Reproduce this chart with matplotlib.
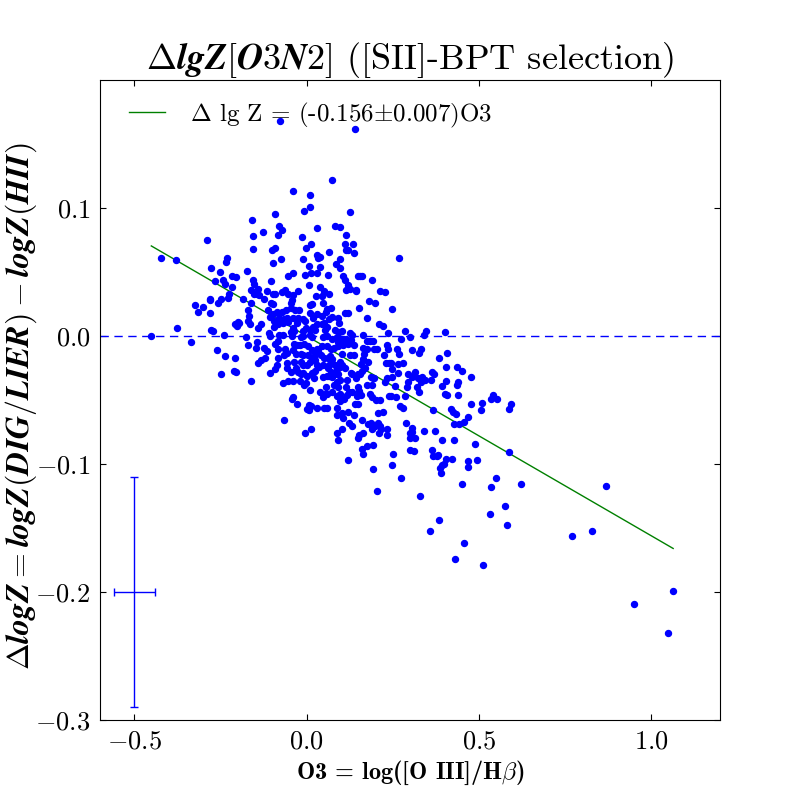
import matplotlib
matplotlib.use("Agg")
import matplotlib.pyplot as plt
import numpy as np
from matplotlib.ticker import FuncFormatter

# ---------------- data ----------------
o3 = [
 -0.078, -0.039, 0.010, -0.007, 0.010, -0.158, -0.091, -0.080, -0.071, -0.155,
 -0.126, -0.082, 0.031, -0.289, -0.013, -0.155, -0.100, -0.091, -0.001, 0.013,
 -0.423, -0.379, -0.231, -0.233, -0.074, -0.097, -0.010, 0.031, 0.039, 0.034,
 0.064, -0.277, -0.252, 0.008, 0.039, -0.172, -0.216, -0.204, -0.242, -0.236,
 -0.265, -0.157, -0.152, -0.103, -0.039, -0.053, -0.004, 0.013, 0.031, 0.063,
 -0.216, -0.225, -0.228, -0.281, -0.280, -0.248, -0.257, -0.161, -0.141, -0.154,
 -0.145, -0.138, -0.114, -0.184, -0.161, -0.123, -0.097, -0.091, -0.103, -0.097,
 -0.073, -0.062, -0.053, -0.039, -0.024, 0.008, 0.039, 0.049, 0.064, -0.042,
 -0.045, -0.323, -0.300, 0.016, 0.046, 0.140, 0.074, 0.127, 0.083, 0.098,
 0.115, 0.112, 0.135, 0.115, 0.121, 0.138, 0.269, 0.098, 0.086, 0.098,
 0.106, 0.150, 0.156, 0.161, 0.190, 0.112, 0.121, 0.127, 0.115, 0.144,
 0.144, 0.214, 0.228, 0.182, 0.199, 0.071, 0.153, 0.249, 0.028, 0.045,
 0.010, 0.060, -0.315, -0.280, -0.171, -0.168, -0.170, -0.164, -0.199, -0.196,
 -0.207, -0.202, -0.377, -0.278, -0.271, -0.240, -0.451, -0.335, -0.175, -0.141,
 -0.133, -0.111, -0.106, -0.097, -0.087, -0.071, -0.060, -0.045, -0.035, -0.021,
 -0.080, -0.066, -0.056, -0.041, -0.026, -0.094, -0.090, -0.094, -0.082, -0.068,
 -0.055, -0.028, -0.010, -0.004, 0.010, 0.017, 0.029, 0.044, 0.057, 0.064,
 -0.003, 0.010, 0.017, 0.024, -0.010, -0.040, -0.037, 0.031, 0.044, 0.049,
 0.058, 0.053, -0.110, -0.106, -0.080, -0.068, -0.082, -0.046, -0.044, -0.017,
 -0.010, 0.010, 0.016, 0.048, 0.058, -0.170, -0.145, -0.146, -0.123, -0.116,
 -0.092, -0.082, -0.063, -0.058, -0.066, -0.038, -0.027, -0.019, -0.008, -0.040,
 -0.032, 0.005, 0.015, 0.029, 0.044, 0.060, -0.017, -0.010, 0.005, 0.015,
 0.024, 0.034, 0.041, 0.051, 0.063, -0.260, -0.236, -0.207, -0.121, -0.134,
 -0.141, -0.082, -0.085, -0.091, -0.058, -0.037, -0.017, -0.010, 0.000, 0.010,
 0.024, 0.029, 0.037, 0.048, 0.064, -0.058, -0.046, -0.032, -0.024, -0.017,
 -0.010, 0.000, 0.015, 0.025, -0.107, -0.210, -0.205, -0.248, -0.163, -0.053,
 -0.041, -0.068, -0.019, -0.008, -0.002, 0.022, 0.046, 0.058, 0.056, 0.010,
 0.039, 0.053, 0.048, -0.039, -0.044, -0.027, 0.006, 0.012, 0.002, 0.008,
 0.031, 0.051, -0.066, 0.013, -0.004, 0.073, 0.090, 0.095, 0.111, 0.121,
 0.174, 0.211, 0.222, 0.082, 0.095, 0.103, 0.126, 0.131, 0.164, 0.237,
 0.286, 0.274, 0.301, 0.346, 0.341, 0.402, 0.073, 0.087, 0.102, 0.113,
 0.090, 0.097, 0.070, 0.080, 0.092, 0.106, 0.119, 0.129, 0.138, 0.174,
 0.184, 0.193, 0.164, 0.176, 0.167, 0.195, 0.203, 0.237, 0.232, 0.263,
 0.268, 0.307, 0.326, 0.332, 0.385, 0.408, 0.068, 0.074, 0.073, 0.082,
 0.097, 0.102, 0.103, 0.126, 0.138, 0.163, 0.179, 0.157, 0.225, 0.230,
 0.239, 0.245, 0.266, 0.280, 0.247, 0.063, 0.070, 0.077, 0.087, 0.097,
 0.111, 0.066, 0.074, 0.082, 0.092, 0.097, 0.087, 0.080, 0.092, 0.116,
 0.129, 0.132, 0.142, 0.148, 0.155, 0.160, 0.169, 0.186, 0.192, 0.196,
 0.174, 0.189, 0.227, 0.232, 0.247, 0.266, 0.256, 0.295, 0.307, 0.314,
 0.324, 0.334, 0.343, 0.332, 0.319, 0.326, 0.295, 0.292, 0.361, 0.365,
 0.370, 0.392, 0.405, 0.404, 0.436, 0.438, 0.452, 0.437, 0.476, 0.402,
 0.407, 0.440, 0.058, 0.074, 0.087, 0.097, 0.113, 0.116, 0.123, 0.131,
 0.150, 0.153, 0.158, 0.147, 0.184, 0.189, 0.201, 0.213, 0.239, 0.244,
 0.259, 0.285, 0.060, 0.089, 0.109, 0.097, 0.140, 0.150, 0.102, 0.121,
 0.138, 0.087, 0.208, 0.222, 0.271, 0.280, 0.368, 0.419, 0.426, 0.434,
 0.467, 0.458, 0.443, 0.427, 0.477, 0.508, 0.506, 0.534, 0.542, 0.553,
 0.593, 0.588, 0.106, 0.123, 0.131, 0.102, 0.160, 0.177, 0.187, 0.198,
 0.208, 0.213, 0.189, 0.216, 0.232, 0.232, 0.288, 0.305, 0.307, 0.300,
 0.341, 0.373, 0.089, 0.092, 0.148, 0.153, 0.164, 0.211, 0.300, 0.314,
 0.394, 0.427, 0.161, 0.174, 0.193, 0.164, 0.251, 0.301, 0.312, 0.363,
 0.377, 0.368, 0.382, 0.404, 0.423, 0.489, 0.588, 0.119, 0.247, 0.193,
 0.387, 0.394, 0.400, 0.390, 0.467, 0.467, 0.495, 0.275, 0.205, 0.330,
 0.452, 0.536, 0.551, 0.623, 0.577, 0.533, 0.582, 0.385, 0.359, 0.458,
 0.431, 0.513, 0.870, 0.771, 0.829, 1.064, 0.951, 1.050,
]

dlogz = [
 0.168, 0.113, 0.110, 0.098, 0.101, 0.091, 0.095, 0.086, 0.083, 0.078,
 0.081, 0.079, 0.084, 0.075, 0.077, 0.068, 0.067, 0.069, 0.069, 0.072,
 0.061, 0.059, 0.061, 0.058, 0.060, 0.057, 0.060, 0.063, 0.062, 0.061,
 0.066, 0.053, 0.050, 0.055, 0.054, 0.051, 0.047, 0.046, 0.044, 0.041,
 0.043, 0.044, 0.041, 0.043, 0.049, 0.047, 0.048, 0.049, 0.049, 0.048,
 0.038, 0.033, 0.030, 0.029, 0.028, 0.029, 0.026, 0.036, 0.037, 0.033,
 0.033, 0.032, 0.035, 0.029, 0.026, 0.029, 0.033, 0.033, 0.026, 0.025,
 0.034, 0.036, 0.033, 0.032, 0.035, 0.040, 0.038, 0.035, 0.033, 0.028,
 0.026, 0.024, 0.023, 0.025, 0.026, 0.162, 0.122, 0.097, 0.086, 0.085,
 0.079, 0.072, 0.072, 0.067, 0.067, 0.065, 0.061, 0.060, 0.056, 0.053,
 0.047, 0.047, 0.047, 0.047, 0.044, 0.044, 0.040, 0.037, 0.036, 0.036,
 0.035, 0.035, 0.034, 0.027, 0.026, 0.022, 0.022, 0.021, 0.031, 0.031,
 0.024, 0.021, 0.019, 0.018, 0.020, 0.016, 0.012, 0.009, 0.011, 0.010,
 0.009, 0.008, 0.006, 0.005, 0.004, 0.001, 0.000, -0.005, -0.001, 0.006,
 0.009, 0.020, 0.015, 0.017, 0.019, 0.019, 0.020, 0.022, 0.020, 0.020,
 0.014, 0.013, 0.014, 0.014, 0.014, 0.012, 0.009, 0.007, 0.009, 0.010,
 0.011, 0.010, 0.013, 0.012, 0.018, 0.014, 0.017, 0.016, 0.019, 0.013,
 0.006, 0.005, 0.007, 0.005, 0.004, 0.006, 0.004, 0.009, 0.009, 0.010,
 0.007, 0.005, 0.002, 0.000, 0.001, 0.001, -0.004, 0.003, 0.000, -0.001,
 0.000, 0.001, -0.001, -0.001, 0.000, -0.007, -0.005, -0.009, -0.009, -0.012,
 -0.006, -0.010, -0.010, -0.013, -0.015, -0.006, -0.007, -0.007, -0.006, -0.011,
 -0.014, -0.008, -0.011, -0.010, -0.008, -0.008, -0.014, -0.015, -0.015, -0.017,
 -0.015, -0.012, -0.015, -0.017, -0.017, -0.011, -0.016, -0.017, -0.017, -0.019,
 -0.021, -0.017, -0.023, -0.026, -0.021, -0.020, -0.020, -0.023, -0.023, -0.020,
 -0.019, -0.023, -0.024, -0.023, -0.023, -0.025, -0.028, -0.025, -0.028, -0.030,
 -0.029, -0.031, -0.029, -0.027, -0.029, -0.027, -0.028, -0.030, -0.035, -0.035,
 -0.035, -0.037, -0.035, -0.038, -0.037, -0.033, -0.032, -0.031, -0.040, -0.042,
 -0.044, -0.045, -0.048, -0.048, -0.049, -0.053, -0.054, -0.055, -0.057, -0.058,
 -0.056, -0.056, -0.066, -0.073, -0.076, 0.015, 0.014, 0.010, 0.018, 0.018,
 0.014, 0.009, 0.008, 0.005, 0.003, 0.004, 0.002, 0.001, 0.001, 0.002,
 0.004, -0.002, -0.001, 0.004, 0.001, 0.003, -0.002, -0.001, -0.002, -0.002,
 -0.005, -0.004, -0.010, -0.009, -0.008, -0.007, -0.006, -0.003, -0.007, -0.004,
 -0.004, -0.004, -0.009, -0.010, -0.014, -0.010, -0.010, -0.010, -0.007, -0.010,
 -0.014, -0.011, -0.013, -0.010, -0.017, -0.013, -0.016, -0.018, -0.021, -0.023,
 -0.020, -0.023, -0.014, -0.015, -0.015, -0.018, -0.020, -0.022, -0.015, -0.021,
 -0.021, -0.021, -0.022, -0.021, -0.026, -0.025, -0.028, -0.029, -0.026, -0.024,
 -0.025, -0.031, -0.032, -0.030, -0.030, -0.034, -0.036, -0.038, -0.040, -0.034,
 -0.029, -0.030, -0.033, -0.030, -0.030, -0.027, -0.025, -0.032, -0.033, -0.033,
 -0.038, -0.038, -0.036, -0.033, -0.032, -0.029, -0.039, -0.030, -0.032, -0.028,
 -0.033, -0.032, -0.034, -0.036, -0.040, -0.044, -0.036, -0.040, -0.034, -0.028,
 -0.030, -0.039, -0.035, -0.024, -0.038, -0.036, -0.027, -0.024, -0.032, -0.045,
 -0.046, -0.046, -0.045, -0.044, -0.047, -0.045, -0.040, -0.046, -0.044, -0.044,
 -0.040, -0.043, -0.046, -0.047, -0.045, -0.048, -0.050, -0.050, -0.047, -0.047,
 -0.048, -0.047, -0.056, -0.056, -0.049, -0.051, -0.053, -0.053, -0.060, -0.059,
 -0.062, -0.062, -0.060, -0.059, -0.055, -0.056, -0.058, -0.057, -0.059, -0.061,
 -0.063, -0.067, -0.069, -0.069, -0.053, -0.052, -0.058, -0.049, -0.046, -0.049,
 -0.053, -0.057, -0.064, -0.068, -0.070, -0.073, -0.066, -0.069, -0.068, -0.070,
 -0.068, -0.070, -0.073, -0.073, -0.073, -0.077, -0.068, -0.072, -0.075, -0.076,
 -0.074, -0.074, -0.076, -0.081, -0.080, -0.077, -0.076, -0.076, -0.080, -0.080,
 -0.081, -0.081, -0.088, -0.086, -0.085, -0.092, -0.092, -0.089, -0.090, -0.089,
 -0.094, -0.094, -0.093, -0.096, -0.096, -0.084, -0.091, -0.097, -0.101, -0.104,
 -0.103, -0.101, -0.100, -0.107, -0.098, -0.102, -0.097, -0.111, -0.121, -0.125,
 -0.116, -0.118, -0.111, -0.116, -0.133, -0.139, -0.148, -0.144, -0.152, -0.162,
 -0.174, -0.179, -0.117, -0.156, -0.152, -0.199, -0.209, -0.232,
]

fit_slope = -0.156
fit_slope_err = 0.007
fit_intercept = 0.0

err_x, err_y = -0.5, -0.2
err_xerr, err_yerr = 0.06, 0.09

x_ticks = [-0.5, 0.0, 0.5, 1.0]
y_ticks = [-0.3, -0.2, -0.1, 0.0, 0.1]

# ---------------- style ----------------
plt.rcParams['mathtext.fontset'] = 'cm'
plt.rcParams['font.family'] = ['cmr10', 'DejaVu Serif']
plt.rcParams['axes.unicode_minus'] = False
plt.rcParams['xtick.direction'] = 'in'
plt.rcParams['ytick.direction'] = 'in'
plt.rcParams['xtick.top'] = True
plt.rcParams['ytick.right'] = True
plt.rcParams['xtick.major.size'] = 4
plt.rcParams['ytick.major.size'] = 4

fig = plt.figure(figsize=(8, 8), dpi=100)
ax = fig.add_axes([0.125, 0.1, 0.775, 0.8])

o3a = np.array(o3)
dza = np.array(dlogz)

ax.plot(o3a, dza, 'o', color='b', mec='b', ms=4.3, zorder=3)

xl = np.array([o3a.min(), o3a.max()])
ax.plot(xl, fit_slope * xl + fit_intercept, '-', color=(0, 0.5, 0), lw=1,
        label=r'$\Delta$ lg Z = (-%.3f$\pm$%.3f)O3' % (abs(fit_slope), fit_slope_err))

ax.axhline(0.0, color='b', ls='--', dashes=(6, 4), lw=1)

ax.errorbar([err_x], [err_y], xerr=[err_xerr], yerr=[err_yerr], fmt='none',
            ecolor='b', elinewidth=1, capsize=3, capthick=1)

ax.set_xlim(-0.6, 1.2)
ax.set_ylim(-0.3, 0.2)
ax.set_xticks(x_ticks)
ax.set_yticks(y_ticks)
fmt = FuncFormatter(lambda v, p: r'$%.1f$' % v)
ax.xaxis.set_major_formatter(fmt)
ax.yaxis.set_major_formatter(fmt)
ax.tick_params(labelsize=19, pad=7)

ax.set_xlabel(r'O3 = log([O III]/H$\beta$)', fontsize=17.5, labelpad=4,
              family=['cmb10', 'DejaVu Serif'])
ax.set_ylabel(r'$\boldsymbol{\Delta logZ = logZ(DIG/LIER) - logZ(HII)}$', fontsize=23)
ax.yaxis.set_label_coords(-0.098, 0.49)
ax.set_title(r'$\boldsymbol{\Delta lgZ}[\boldsymbol{O}\mathbf{3}\boldsymbol{N}\mathbf{2}]$ ([SII]-BPT selection)',
             fontsize=26, pad=6)

leg = ax.legend(loc='upper left', frameon=False, fontsize=18, handlelength=1.45,
                handletextpad=1.0, bbox_to_anchor=(0.018, 0.995), borderaxespad=0.3)

fig.savefig('out.png', dpi=100)
